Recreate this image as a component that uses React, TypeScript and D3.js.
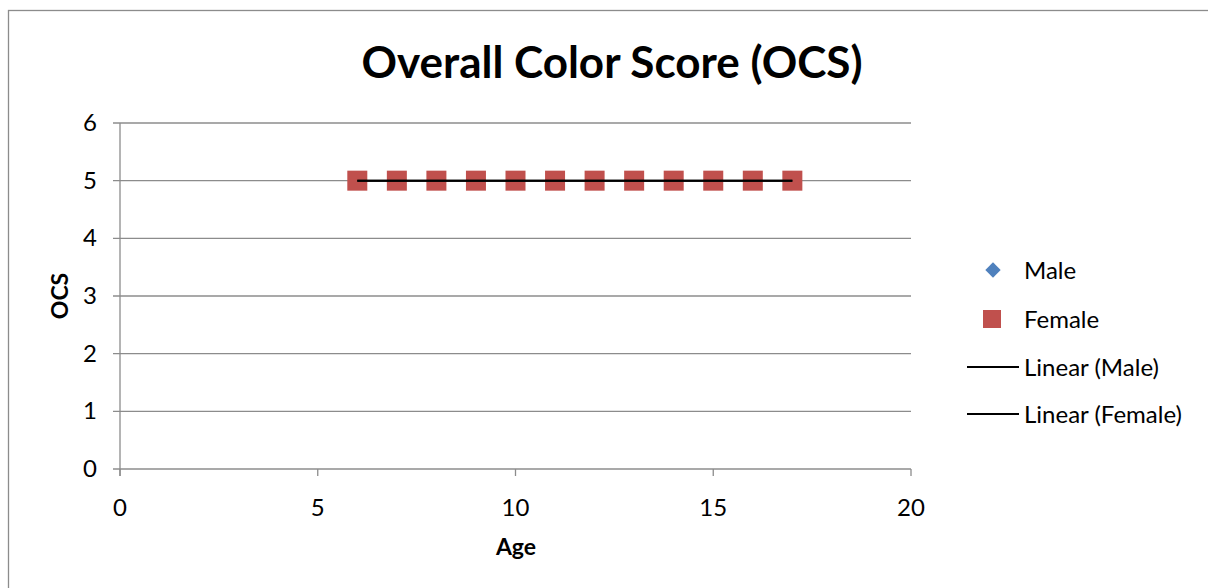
import React from "react";
import * as d3 from "d3";

const ages = [6, 7, 8, 9, 10, 11, 12, 13, 14, 15, 16, 17];
const maleOCS = [5, 5, 5, 5, 5, 5, 5, 5, 5, 5, 5, 5];
const femaleOCS = [5, 5, 5, 5, 5, 5, 5, 5, 5, 5, 5, 5];
const xTicks = [0, 5, 10, 15, 20];
const yTicks = [0, 1, 2, 3, 4, 5, 6];
const legendItems = ["Male", "Female", "Linear (Male)", "Linear (Female)"];

const FONT = "Lato, 'Open Sans', sans-serif";

// least-squares line through (x, y)
function linearFit(xs: number[], ys: number[]) {
  const n = xs.length;
  const mx = d3.mean(xs)!;
  const my = d3.mean(ys)!;
  let num = 0;
  let den = 0;
  for (let i = 0; i < n; i++) {
    num += (xs[i] - mx) * (ys[i] - my);
    den += (xs[i] - mx) ** 2;
  }
  const slope = den === 0 ? 0 : num / den;
  const intercept = my - slope * mx;
  return (x: number) => intercept + slope * x;
}

export default function App() {
  const W = 1208;
  const H = 588;
  const x = d3.scaleLinear().domain([0, 20]).range([120, 911]);
  const y = d3.scaleLinear().domain([0, 6]).range([469, 123]);
  const grid = "#8c8c8c";
  const red = "#C0504D";
  const blue = "#4F81BD";
  const fs = 24;

  const xMin = d3.min(ages)!;
  const xMax = d3.max(ages)!;
  const fitM = linearFit(ages, maleOCS);
  const fitF = linearFit(ages, femaleOCS);
  const line = d3.line<number[]>().x((d) => x(d[0])).y((d) => y(d[1]));

  const diamond = d3.symbol().type(d3.symbolDiamond2).size(150)()!;

  return (
    <svg
      width={W}
      height={H}
      style={{ position: "absolute", left: 0, top: 0, background: "#fff" }}
      fontFamily={FONT}
    >
      <rect x={8.5} y={10.5} width={W + 10} height={H + 10} fill="#fff" stroke="#8c8c8c" strokeWidth={1.3} />
      <text x={612} y={78} textAnchor="middle" fontSize={44} fontWeight="bold" fill="#000">
        Overall Color Score (OCS)
      </text>

      {/* gridlines */}
      {yTicks.map((t) => (
        <line key={"g" + t} x1={113} x2={x(20)} y1={y(t)} y2={y(t)} stroke={grid} strokeWidth={1.3} />
      ))}
      {/* axes */}
      <line x1={x(0)} x2={x(0)} y1={y(6)} y2={y(0) + 7} stroke={grid} strokeWidth={1.3} />
      {xTicks.map((t) => (
        <line key={"xt" + t} x1={x(t)} x2={x(t)} y1={y(0)} y2={y(0) + 7} stroke={grid} strokeWidth={1.3} />
      ))}
      {yTicks.map((t) => (
        <text key={"yl" + t} x={97} y={y(t) + 8} textAnchor="end" fontSize={fs} fill="#000">
          {t}
        </text>
      ))}
      {xTicks.map((t) => (
        <text key={"xl" + t} x={x(t)} y={516} textAnchor="middle" fontSize={fs} fill="#000">
          {t}
        </text>
      ))}
      <text x={516} y={555} textAnchor="middle" fontSize={fs - 1} fontWeight="bold">
        Age
      </text>
      <text
        transform={`translate(68,${y(3)}) rotate(-90)`}
        textAnchor="middle"
        fontSize={fs - 1}
        fontWeight="bold"
      >
        OCS
      </text>

      {/* Male markers */}
      {ages.map((a, i) => (
        <path key={"m" + a} d={diamond} transform={`translate(${x(a)},${y(maleOCS[i])})`} fill={blue} />
      ))}
      {/* Female markers */}
      {ages.map((a, i) => (
        <rect key={"f" + a} x={x(a) - 10} y={y(femaleOCS[i]) - 10} width={20} height={20} fill={red} />
      ))}
      {/* trend lines */}
      <path d={line([[xMin, fitM(xMin)], [xMax, fitM(xMax)]])!} stroke="#000" strokeWidth={2} fill="none" />
      <path d={line([[xMin, fitF(xMin)], [xMax, fitF(xMax)]])!} stroke="#000" strokeWidth={2} fill="none" />

      {/* legend */}
      <g fontSize={fs} fill="#000">
        <path d={diamond} transform="translate(993,270)" fill={blue} />
        <text x={1024} y={279}>{legendItems[0]}</text>
        <rect x={983} y={310} width={18} height={18} fill={red} />
        <text x={1024} y={328}>{legendItems[1]}</text>
        <line x1={967} x2={1019} y1={367} y2={367} stroke="#000" strokeWidth={2} />
        <text x={1024} y={376}>{legendItems[2]}</text>
        <line x1={967} x2={1019} y1={414} y2={414} stroke="#000" strokeWidth={2} />
        <text x={1024} y={423}>{legendItems[3]}</text>
      </g>
    </svg>
  );
}
